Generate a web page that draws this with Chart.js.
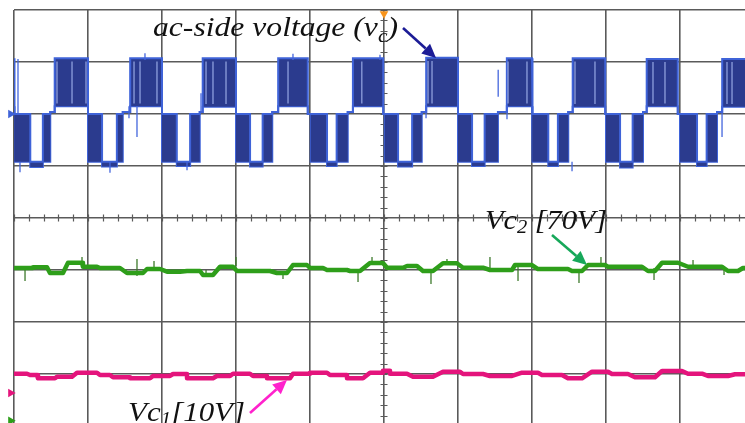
<!DOCTYPE html>
<html><head><meta charset="utf-8">
<script src="https://cdn.jsdelivr.net/npm/chart.js@4.4.0/dist/chart.umd.min.js"></script>
<style>
html,body{margin:0;padding:0;background:#fff;overflow:hidden;width:745px;height:423px;}
#wrap{position:absolute;left:0;top:0;width:760px;height:440px;}
</style></head><body>
<div id="wrap"><canvas id="c" width="760" height="440"></canvas></div>
<script>
// ---------- scope screen (units = divisions) ----------
const xRange = [0, 10];
const yRange = [-4, 4];

// ---------- ac-side voltage v_c (blue): one PWM cycle per division ----------
const blueNegStart = [0.01, 1.00, 2.00, 3.00, 4.01, 5.01, 6.00, 7.01, 8.00, 9.00];
const blueGapStart = [0.22, 1.19, 2.20, 3.19, 4.23, 5.19, 6.19, 7.22, 8.19, 9.23];
const blueGapEnd   = [0.39, 1.39, 2.38, 3.36, 4.36, 5.38, 6.36, 7.35, 8.36, 9.36];
const blueNegEnd   = [0.49, 1.47, 2.51, 3.49, 4.51, 5.51, 6.54, 7.49, 8.50, 9.50];
const bluePosStart = [0.55, 1.57, 2.55, 3.57, 4.58, 5.57, 6.66, 7.55, 8.55, 9.57];
const bluePosEnd   = [1.00, 2.00, 3.00, 3.97, 4.99, 6.00, 7.00, 7.99, 8.97, 10.00];
const bluePosTop   = [3.07, 3.07, 3.07, 3.07, 3.07, 3.08, 3.07, 3.07, 3.06, 3.06];
const bluePosLow   = [2.15, 2.15, 2.14, 2.15, 2.15, 2.15, 2.15, 2.14, 2.15, 2.14];
const blueZero     = [2.00, 2.00, 2.00, 2.00, 2.00, 2.00, 2.00, 2.00, 2.00, 2.00];
const blueNegLow   = [1.08, 1.08, 1.08, 1.08, 1.08, 1.08, 1.08, 1.08, 1.08, 1.08];
const blueNegDip   = [0.98, 0.99, 1.00, 0.99, 1.00, 0.99, 1.00, 1.00, 0.97, 1.00];
const blueStep     = [2.04, 2.04, 2.04, 2.04, 2.04, 2.04, 2.04, 2.04, 2.04, 2.04];
// lighter switching streaks inside the positive blocks
const blueStreakX  = [0.581, 0.784, 0.973, 1.622, 1.703, 1.932, 2.595, 2.689, 2.865, 3.703,
                      4.700, 5.595, 5.649, 6.676, 6.932, 7.581, 7.851, 8.635, 8.797, 9.635, 9.703];
// isolated switching spikes
const blueSpikeX    = [0.054, 1.554, 1.662, 1.770, 2.527, 3.770, 4.946, 5.568, 6.543, 6.662, 9.568, 0.081, 1.297, 2.338, 7.541];
const blueSpikeFrom = [2.00,  2.15,  2.15,  3.04,  2.04,  3.04,  3.04,  2.15,  2.33,  2.15,  2.15,  1.08,  1.08,  1.08,  1.08];
const blueSpikeTo   = [3.06,  1.92,  1.56,  3.17,  2.40,  3.16,  3.14,  1.92,  2.85,  1.90,  1.56,  0.88,  0.87,  0.92,  0.90];

// ---------- Vc2 [70V] (green) ----------
const greenX = [0.000,0.257, 0.257,0.446, 0.486,0.662, 0.730,0.919, 0.932,1.122, 1.162,1.432,
  1.527,1.743, 1.797,1.973, 2.068,2.243, 2.338,2.514, 2.554,2.689, 2.784,2.959, 3.014,3.459,
  3.554,3.689, 3.770,3.959, 4.000,4.176, 4.230,4.500, 4.541,4.676, 4.811,4.986, 5.041,5.257,
  5.311,5.446, 5.527,5.662, 5.797,5.986, 6.068,6.338, 6.432,6.730, 6.770,7.000, 7.081,7.486,
  7.541,7.676, 7.757,7.986, 8.027,8.486, 8.568,8.662, 8.757,8.973, 9.108,9.568, 9.649,9.784, 9.851,10.0];
const greenY = [-0.962,-0.962, -0.948,-0.948, -1.058,-1.058, -0.860,-0.860, -0.937,-0.937, -0.962,-0.962,
  -1.058,-1.058, -0.981,-0.981, -1.033,-1.033, -1.019,-1.019, -1.096,-1.096, -0.937,-0.937, -1.019,-1.019,
  -1.058,-1.058, -0.904,-0.904, -0.962,-0.962, -1.000,-1.000, -1.019,-1.019, -0.865,-0.865, -0.956,-0.956,
  -0.923,-0.923, -1.019,-1.019, -0.871,-0.871, -0.956,-0.956, -1.000,-1.000, -0.904,-0.904, -0.981,-0.981,
  -1.019,-1.019, -0.904,-0.904, -0.937,-0.937, -1.019,-1.019, -0.860,-0.860, -0.937,-0.937, -1.019,-1.019, -0.962,-0.962];
const greenSpikeX    = [0.149, 0.919, 1.662, 1.892, 2.595, 3.000, 3.635, 4.649, 4.838, 5.635, 5.851, 6.432, 6.811, 7.635, 7.932, 8.649, 9.176, 9.595];
const greenSpikeFrom = [-0.962,-0.865,-0.788,-0.962,-1.000,-0.923,-1.019,-1.000,-0.904,-0.981,-0.904,-0.962,-0.923,-0.981,-0.923,-0.962,-0.923,-0.962];
const greenSpikeTo   = [-1.212,-0.750,-1.115,-0.827,-1.135,-0.750,-1.173,-1.231,-0.750,-1.269,-0.788,-0.750,-1.212,-1.250,-0.750,-1.192,-0.808,-1.096];

// ---------- Vc1 [10V] (pink) ----------
const pinkX = [0.000,0.176, 0.216,0.311, 0.324,0.554, 0.581,0.784, 0.851,1.122, 1.162,1.297, 1.338,1.568,
  1.568,1.838, 1.878,2.108, 2.149,2.338, 2.338,2.689, 2.743,2.919, 2.959,3.189, 3.230,3.419, 3.419,3.730,
  3.770,4.000, 4.000,4.230, 4.270,4.500, 4.500,4.716, 4.811,4.986, 4.986,5.081, 5.081,5.311, 5.392,5.662,
  5.797,6.027, 6.068,6.338, 6.432,6.730, 6.865,7.081, 7.135,7.405, 7.486,7.676, 7.811,8.027, 8.081,8.297,
  8.392,8.662, 8.757,9.027, 9.108,9.297, 9.378,9.649, 9.743,10.0];
const pinkY = [-2.994,-2.994, -3.019,-3.019, -3.083,-3.083, -3.052,-3.052, -2.975,-2.975, -3.019,-3.019, -3.063,-3.063,
  -3.083,-3.083, -3.038,-3.038, -3.000,-3.000, -3.083,-3.083, -3.038,-3.038, -2.994,-2.994, -3.038,-3.038, -3.083,-3.083,
  -2.994,-2.994, -2.975,-2.975, -3.019,-3.019, -3.083,-3.083, -2.975,-2.975, -2.937,-2.937, -2.994,-2.994, -3.052,-3.052,
  -2.956,-2.956, -3.000,-3.000, -3.038,-3.038, -2.975,-2.975, -3.019,-3.019, -3.083,-3.083, -2.956,-2.956, -3.000,-3.000,
  -3.063,-3.063, -2.942,-2.942, -2.994,-2.994, -3.038,-3.038, -3.006,-3.006];

// ---------- trigger / channel markers (trigger first) ----------
const markerX = [5.0, -0.045, -0.045, -0.045];
const markerY = [3.93, 2.0, -3.365, -3.90];
const markerColors = ['#f7941d', '#3f63d8', '#e4147c', '#2e9e1a'];
const markerRot = [180, 90, 90, 90];

// ---------- annotations ----------
const labelText = [
  [['ac-side voltage (v', 0], ['c', 1], [')', 0]],
  [['Vc', 0], ['2', 2], [' [70V]', 0]],
  [['Vc', 0], ['1', 2], ['[10V]', 0]]
];
const labelX = [1.878, 6.365, 1.541];
const labelY = [3.50, -0.212, -3.904];
const arrowFromX = [5.257, 7.270, 3.189];
const arrowFromY = [3.654, -0.327, -3.750];
const arrowToX   = [5.703, 7.743, 3.689];
const arrowToY   = [3.077, -0.904, -3.115];
const arrowColors = ['#1c1c96', '#17a85a', '#ff22cc'];

// ---------- build tables for the library ----------
const blueU = [], blueL = [];
function addPt(x, u, l) { blueU.push({x, y: u}); blueL.push({x, y: l}); }
addPt(xRange[0], bluePosTop[0], bluePosLow[0]);
for (let k = 0; k < blueNegStart.length; k++) {
  const prevEnd = k === 0 ? xRange[0] : bluePosEnd[k - 1];
  const pt = k === 0 ? bluePosTop[0] : bluePosTop[k - 1];
  const pl = k === 0 ? bluePosLow[0] : bluePosLow[k - 1];
  if (blueNegStart[k] > prevEnd + 0.005) {
    addPt(prevEnd, blueZero[k], blueZero[k]);
    addPt(blueNegStart[k], blueZero[k], blueZero[k]);
  } else {
    addPt(blueNegStart[k], pt, pl);
  }
  addPt(blueNegStart[k], blueZero[k], blueNegLow[k]);
  addPt(blueGapStart[k], blueZero[k], blueNegLow[k]);
  addPt(blueGapStart[k], blueNegLow[k], blueNegDip[k]);
  addPt(blueGapEnd[k], blueNegLow[k], blueNegDip[k]);
  addPt(blueGapEnd[k], blueZero[k], blueNegLow[k]);
  addPt(blueNegEnd[k], blueZero[k], blueNegLow[k]);
  addPt(blueNegEnd[k], blueStep[k], blueStep[k]);
  addPt(bluePosStart[k], blueStep[k], blueStep[k]);
  addPt(bluePosStart[k], bluePosTop[k], bluePosLow[k]);
  addPt(bluePosEnd[k], bluePosTop[k], bluePosLow[k]);
}
const blueStreaks = [];
blueStreakX.forEach(x => {
  const k = Math.min(9, Math.floor(x));
  blueStreaks.push({x, y: bluePosTop[k] - 0.06}, {x, y: bluePosLow[k] + 0.05}, {x, y: null});
});
const blueSpikes = [];
blueSpikeX.forEach((x, i) => { blueSpikes.push({x, y: blueSpikeFrom[i]}, {x, y: blueSpikeTo[i]}, {x, y: null}); });
const greenData = greenX.map((x, i) => ({x, y: greenY[i]}));
const pinkData = pinkX.map((x, i) => ({x, y: pinkY[i]}));
const greenSpikes = [];
greenSpikeX.forEach((x, i) => { greenSpikes.push({x, y: greenSpikeFrom[i]}, {x, y: greenSpikeTo[i]}, {x, y: null}); });
const markerData = markerX.map((x, i) => ({x, y: markerY[i]}));

const gridColor = '#5a5a5a';

const overlay = {
  id: 'overlay',
  beforeDatasetsDraw(chart) {
    const {ctx, scales: {x, y}} = chart;
    ctx.save();
    ctx.strokeStyle = gridColor; ctx.lineWidth = 1.2;
    const cx = x.getPixelForValue((xRange[0] + xRange[1]) / 2);
    const cy = y.getPixelForValue(0);
    ctx.beginPath();
    for (let v = yRange[0]; v <= yRange[1] + 1e-6; v += 0.2) {
      const py = Math.round(y.getPixelForValue(v)) + 0.5;
      ctx.moveTo(cx - 3.5, py); ctx.lineTo(cx + 3.5, py);
    }
    for (let v = xRange[0]; v <= xRange[1] + 1e-6; v += 0.2) {
      const px = Math.round(x.getPixelForValue(v)) + 0.5;
      ctx.moveTo(px, cy - 3.5); ctx.lineTo(px, cy + 3.5);
    }
    ctx.stroke();
    ctx.restore();
  },
  afterDatasetsDraw(chart) {
    const {ctx, scales: {x, y}} = chart;
    ctx.save();
    // arrows
    arrowFromX.forEach((fx, i) => {
      const x1 = x.getPixelForValue(fx), y1 = y.getPixelForValue(arrowFromY[i]);
      const x2 = x.getPixelForValue(arrowToX[i]), y2 = y.getPixelForValue(arrowToY[i]);
      const a = Math.atan2(y2 - y1, x2 - x1), hl = 14, hw = 6.5;
      const bx = x2 - hl * Math.cos(a), by = y2 - hl * Math.sin(a);
      ctx.strokeStyle = arrowColors[i]; ctx.fillStyle = arrowColors[i]; ctx.lineWidth = 2.6;
      ctx.beginPath(); ctx.moveTo(x1, y1); ctx.lineTo(bx, by); ctx.stroke();
      ctx.beginPath(); ctx.moveTo(x2, y2);
      ctx.lineTo(bx + hw * Math.sin(a), by - hw * Math.cos(a));
      ctx.lineTo(bx - hw * Math.sin(a), by + hw * Math.cos(a));
      ctx.closePath(); ctx.fill();
    });
    // labels (italic serif, slightly wide as in the scope capture)
    const targetW = [245, 122, 117];
    labelText.forEach((parts, i) => {
      const fontFor = p => p[1] === 0 ? 'italic 28px "Liberation Serif", "Times New Roman", serif'
                                       : 'italic 19px "Liberation Serif", "Times New Roman", serif';
      let w = 0;
      parts.forEach(p => { ctx.font = fontFor(p); w += ctx.measureText(p[0]).width; });
      const sx = targetW[i] / w;
      ctx.save();
      ctx.translate(x.getPixelForValue(labelX[i]), y.getPixelForValue(labelY[i]));
      ctx.scale(sx, 1);
      ctx.fillStyle = '#111';
      ctx.textBaseline = 'alphabetic';
      let cx = 0;
      parts.forEach(p => {
        ctx.font = fontFor(p);
        const dy = p[1] === 1 ? 6 : (p[1] === 2 ? 4 : 0);
        ctx.fillText(p[0], cx, dy);
        cx += ctx.measureText(p[0]).width;
      });
      ctx.restore();
    });
    ctx.restore();
  }
};

new Chart(document.getElementById('c'), {
  type: 'line',
  data: {
    datasets: [
      { label: 'ac-side voltage upper', data: blueU, borderColor: '#3f63d8', borderWidth: 2,
        backgroundColor: '#2b3b8e', fill: '+1', pointRadius: 0, tension: 0, order: 3 },
      { label: 'ac-side voltage lower', data: blueL, borderColor: '#3f63d8', borderWidth: 2,
        backgroundColor: '#2b3b8e', fill: false, pointRadius: 0, tension: 0, order: 3 },
      { label: 'ac-side voltage streaks', data: blueStreaks, borderColor: 'rgba(150,168,228,0.85)', borderWidth: 1.4,
        pointRadius: 0, spanGaps: false, fill: false, order: 2 },
      { label: 'ac-side voltage spikes', data: blueSpikes, borderColor: '#4466dd', borderWidth: 1.3,
        pointRadius: 0, spanGaps: false, fill: false, order: 2 },
      { label: 'Vc2 spikes', data: greenSpikes, borderColor: '#3e7a2c', borderWidth: 1.3,
        pointRadius: 0, spanGaps: false, fill: false, order: 2 },
      { label: 'Vc2', data: greenData, borderColor: '#2e9e1a', borderWidth: 4.5, borderJoinStyle: 'round',
        pointRadius: 0, tension: 0, fill: false, order: 1 },
      { label: 'Vc1', data: pinkData, borderColor: '#e4147c', borderWidth: 4.5, borderJoinStyle: 'round',
        pointRadius: 0, tension: 0, fill: false, order: 1 },
      { type: 'scatter', label: 'markers', data: markerData, pointStyle: 'triangle',
        pointRadius: 5, pointRotation: markerRot, backgroundColor: markerColors,
        borderColor: markerColors, borderWidth: 0, clip: false, order: 0 }
    ]
  },
  options: {
    responsive: false, animation: false, devicePixelRatio: 1,
    layout: { padding: { left: 14, top: 10, right: 6, bottom: 14 } },
    plugins: { legend: { display: false }, tooltip: { enabled: false } },
    scales: {
      x: { type: 'linear', min: xRange[0], max: xRange[1],
        ticks: { display: false, stepSize: 1 },
        grid: { color: gridColor, lineWidth: 1.6, drawTicks: false },
        border: { display: false } },
      y: { type: 'linear', min: yRange[0], max: yRange[1],
        ticks: { display: false, stepSize: 1 },
        grid: { color: gridColor, lineWidth: 1.6, drawTicks: false },
        border: { display: false } }
    }
  },
  plugins: [overlay]
});
</script>
</body></html>
